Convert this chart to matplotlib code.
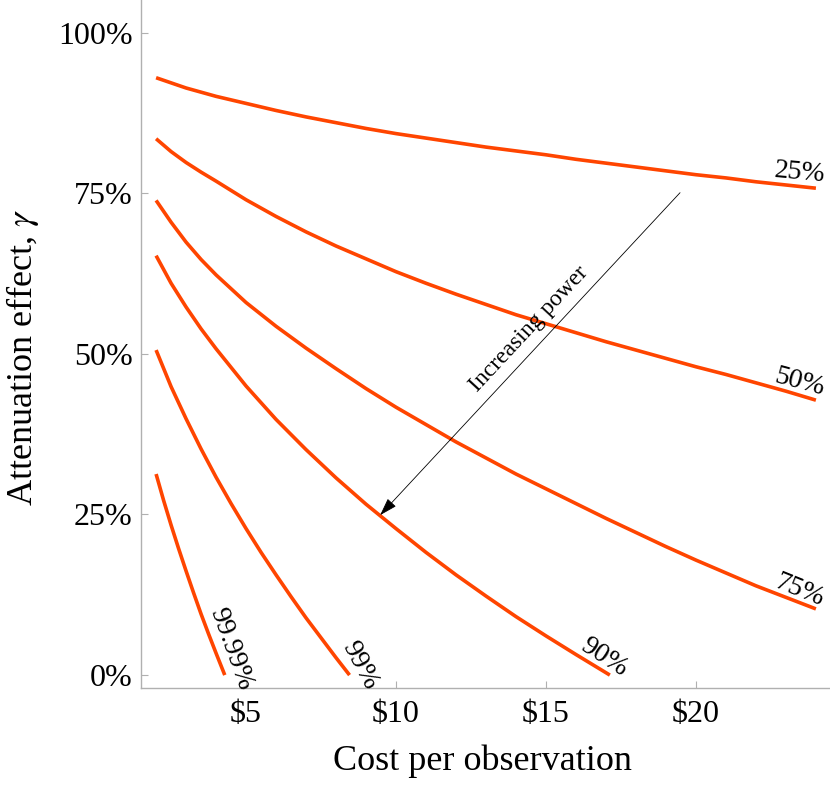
import matplotlib
matplotlib.use("Agg")
import matplotlib.pyplot as plt

plt.rcParams['font.family'] = ['Liberation Serif', 'DejaVu Serif']
plt.rcParams['mathtext.fontset'] = 'stix'

# Data (cost in $, gamma in %)
cost_25 = [2, 3, 4, 5, 6, 7, 8, 9, 10, 11, 12, 13, 14, 15, 16, 17, 18, 19, 20, 21, 22, 23, 24]
gamma_25 = [93.0, 91.4, 90.1, 89.0, 87.9, 86.9, 86.0, 85.1, 84.3, 83.6, 82.9, 82.2, 81.6,
            81.0, 80.3, 79.7, 79.1, 78.5, 77.9, 77.4, 76.8, 76.3, 75.8]

cost_50 = [2, 2.5, 3, 3.5, 4, 5, 6, 7, 8, 9, 10, 11, 12, 13, 14, 15, 16, 17, 18, 19, 20, 21, 22, 23, 24]
gamma_50 = [83.5, 81.5, 79.8, 78.3, 76.9, 74.0, 71.4, 69.0, 66.8, 64.8, 62.8, 61.0, 59.3,
            57.7, 56.1, 54.7, 53.3, 51.9, 50.6, 49.3, 48.0, 46.8, 45.5, 44.2, 42.8]

cost_75 = [2, 2.5, 3, 3.5, 4, 5, 6, 7, 8, 9, 10, 11, 12, 13, 14, 15, 16, 17, 18, 19, 20, 21, 22, 23, 24]
gamma_75 = [73.9, 70.5, 67.4, 64.7, 62.3, 58.0, 54.3, 50.9, 47.7, 44.6, 41.7, 39.0, 36.3,
            33.8, 31.3, 29.0, 26.7, 24.4, 22.2, 20.0, 17.9, 15.9, 13.9, 12.1, 10.3]

cost_90 = [2, 2.5, 3, 3.5, 4, 5, 6, 7, 8, 9, 10, 11, 12, 13, 14, 15, 16, 17.13]
gamma_90 = [65.3, 61.0, 57.3, 53.9, 50.8, 45.0, 39.8, 35.1, 30.7, 26.6, 22.8, 19.1, 15.6,
            12.3, 9.1, 6.1, 3.2, 0.0]

cost_99 = [2, 2.5, 3, 3.5, 4, 4.5, 5, 5.5, 6, 6.5, 7, 7.5, 8, 8.45]
gamma_99 = [50.6, 44.9, 39.9, 35.2, 30.8, 26.7, 22.8, 19.1, 15.6, 12.2, 8.9, 5.8, 2.7, 0.0]

cost_9999 = [2, 2.25, 2.5, 2.75, 3, 3.25, 3.5, 3.75, 4, 4.29]
gamma_9999 = [31.3, 27.2, 23.35, 19.7, 16.2, 12.8, 9.5, 6.4, 3.4, 0.0]

curve_labels = ["25%", "50%", "75%", "90%", "99%", "99.99%"]

x_ticks = [5, 10, 15, 20]
x_tick_labels = [r"\$5", r"\$10", r"\$15", r"\$20"]
y_ticks = [0, 25, 50, 75, 100]
y_tick_labels = ["0%", "25%", "50%", "75%", "100%"]

color = "#ff4500"

fig = plt.figure(figsize=(8.30, 7.88), dpi=100)
ax = fig.add_axes([0.17, 0.127, 0.83, 0.873])

series = [(cost_25, gamma_25), (cost_50, gamma_50), (cost_75, gamma_75),
          (cost_90, gamma_90), (cost_99, gamma_99), (cost_9999, gamma_9999)]
for xs, ys in series:
    ax.plot(xs, ys, color=color, lw=2.6, solid_capstyle='butt', solid_joinstyle='round')

# curve labels: (x, y, rotation)
label_pos = [(23.45, 78.2, -5), (23.45, 45.6, -15), (23.45, 13.2, -22),
             (16.95, 2.8, -33), (8.8, 1.5, -62), (4.5, 4.0, -70)]
for lab, (lx, ly, rot) in zip(curve_labels, label_pos):
    ax.text(lx, ly, lab, rotation=rot, ha='center', va='center',
            fontsize=20, color='black', rotation_mode='anchor')

# arrow
ax.annotate("", xy=(9.47, 24.9), xytext=(19.47, 75.1),
            arrowprops=dict(arrowstyle="-|>,head_length=1.1,head_width=0.35",
                            color='black', lw=0.6, shrinkA=0, shrinkB=0))
ax.text(14.45, 53.8, "Increasing power", rotation=47, ha='center', va='center',
        fontsize=17, rotation_mode='anchor')

ax.set_xlim(1.5, 24.47)
ax.set_ylim(-2.0, 105.1)
ax.set_xticks(x_ticks)
ax.set_xticklabels(x_tick_labels, fontsize=23)
ax.set_yticks(y_ticks)
ax.set_yticklabels(y_tick_labels, fontsize=23)
ax.tick_params(direction='in', length=5, color='#b0b0b0', width=0.8)
ax.tick_params(axis='x', pad=9)
ax.tick_params(axis='y', pad=6)

for s in ['top', 'right']:
    ax.spines[s].set_visible(False)
for s in ['left', 'bottom']:
    ax.spines[s].set_color('#b0b0b0')
    ax.spines[s].set_linewidth(1.0)

ax.set_xlabel("Cost per observation", fontsize=26)
ax.set_ylabel(r"Attenuation effect, $\gamma$", fontsize=26)
ax.xaxis.set_label_coords(0.496, -0.082)
ax.yaxis.set_label_coords(-0.146, 0.481)

fig.savefig("out.png", dpi=100)
